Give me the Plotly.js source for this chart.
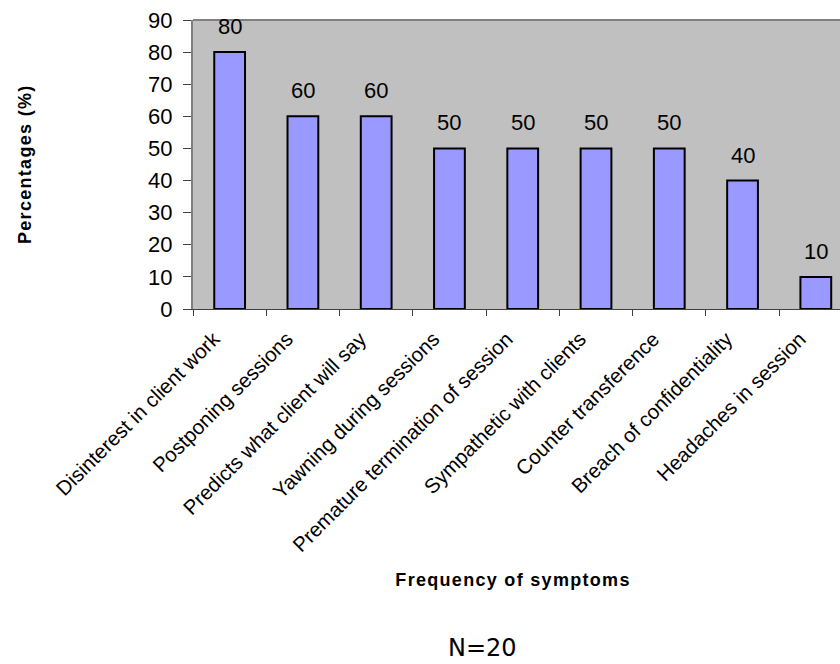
<!DOCTYPE html>
<html>
<head>
<meta charset="utf-8">
<script src="https://cdn.plot.ly/plotly-3.0.1.min.js"></script>
<style>
html,body{margin:0;padding:0;background:#fff;}
#chart{width:840px;height:664px;}
g.annotation[data-index="9"] text, g.annotation[data-index="10"] text { letter-spacing: 1.3px; }
</style>
</head>
<body>
<div id="chart"></div>
<script>
const categories = [
  "Disinterest in client work",
  "Postponing sessions",
  "Predicts what client will say",
  "Yawning during sessions",
  "Premature termination of session",
  "Sympathetic with clients",
  "Counter transference",
  "Breach of confidentiality",
  "Headaches in session"
];
const percentages = [80, 60, 60, 50, 50, 50, 50, 40, 10];
const yTicks = [0, 10, 20, 30, 40, 50, 60, 70, 80, 90];

const font = "Liberation Sans, Arial, sans-serif";

const trace = {
  type: "bar",
  x: categories,
  y: percentages,
  width: 0.42,
  marker: { color: "#9999FF", line: { color: "#000000", width: 2 } },
  hoverinfo: "skip"
};

const valueLabels = categories.map((c, i) => ({
  x: c, y: percentages[i], xref: "x", yref: "y",
  text: String(percentages[i]), showarrow: false,
  yanchor: "bottom", yshift: 11,
  font: { family: font, size: 22, color: "#000" }
}));

const layout = {
  width: 840, height: 664,
  margin: { l: 193, r: 0, t: 20, b: 355 },
  paper_bgcolor: "#ffffff",
  plot_bgcolor: "#C0C0C0",
  showlegend: false,
  xaxis: {
    type: "category",
    range: [-0.5, 8.33],
    tickson: "boundaries",
    ticks: "outside", ticklen: 6, tickcolor: "#404040", tickwidth: 1,
    showline: true, linecolor: "#404040", linewidth: 1,
    tickangle: -45,
    ticklabelstandoff: 9,
    ticklabelshift: -16,
    tickfont: { family: font, size: 20.5, color: "#000" },
    showgrid: false, zeroline: false, fixedrange: true
  },
  yaxis: {
    range: [0, 90],
    tickvals: yTicks,
    ticks: "outside", ticklen: 8, tickcolor: "#404040", tickwidth: 1,
    showline: true, linecolor: "#808080", linewidth: 2,
    ticklabelstandoff: 6,
    tickfont: { family: font, size: 22, color: "#000" },
    showgrid: false, zeroline: false, fixedrange: true
  },
  shapes: [
    { type: "line", xref: "paper", yref: "paper", x0: 0, x1: 1, y0: 1, y1: 1,
      line: { color: "#808080", width: 2 } }
  ],
  annotations: valueLabels.concat([
    { xref: "paper", yref: "paper", x: -0.26, y: 0.5, text: "<b>Percentages (%)</b>",
      textangle: -90, showarrow: false, xanchor: "center", yanchor: "middle",
      font: { family: font, size: 18, color: "#000" } },
    { xref: "paper", yref: "paper", x: 0.495, y: -0.938, text: "<b>Frequency of symptoms</b>",
      showarrow: false, xanchor: "center", yanchor: "middle",
      font: { family: font, size: 18, color: "#000" } },
    { xref: "paper", yref: "paper", x: 0.447, y: -1.173, text: "N=20",
      showarrow: false, xanchor: "center", yanchor: "middle",
      font: { family: "DejaVu Sans, sans-serif", size: 24, color: "#000" } }
  ])
};

Plotly.newPlot("chart", [trace], layout, { staticPlot: true, displayModeBar: false });
</script>
</body>
</html>
